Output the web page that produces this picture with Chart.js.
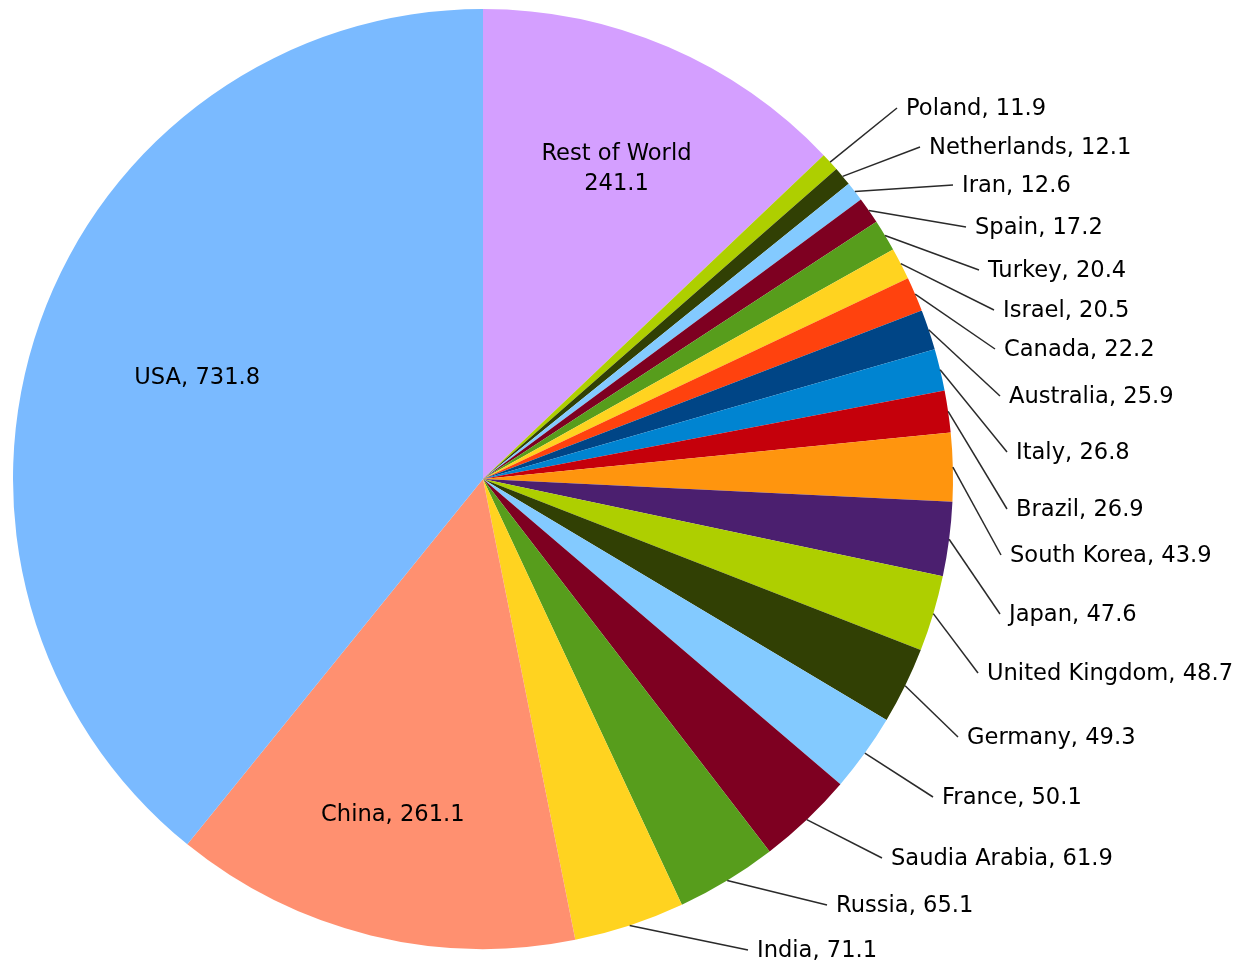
<!DOCTYPE html>
<html>
<head>
<meta charset="utf-8">
<script src="https://cdn.jsdelivr.net/npm/chart.js@4.4.1/dist/chart.umd.min.js"></script>
<style>
  html, body { margin: 0; padding: 0; background: #ffffff; }
  canvas { display: block; }
</style>
</head>
<body>
<canvas id="pieChart" width="1242" height="966"></canvas>
<script>
// Données du graphique (sens horaire depuis midi)
const countries = [
  "Rest of World", "Poland", "Netherlands", "Iran", "Spain", "Turkey", "Israel",
  "Canada", "Australia", "Italy", "Brazil", "South Korea", "Japan",
  "United Kingdom", "Germany", "France", "Saudia Arabia", "Russia", "India",
  "China", "USA"
];
const values = [
  241.1, 11.9, 12.1, 12.6, 17.2, 20.4, 20.5,
  22.2, 25.9, 26.8, 26.9, 43.9, 47.6,
  48.7, 49.3, 50.1, 61.9, 65.1, 71.1,
  261.1, 731.8
];
const sliceColors = [
  "#d49fff", "#aecf00", "#314004", "#83caff", "#7e0021", "#579d1c", "#ffd320",
  "#ff420e", "#004586", "#0084d1", "#c5000b", "#ff950e", "#4b1f6f",
  "#aecf00", "#314004", "#83caff", "#7e0021", "#579d1c", "#ffd320",
  "#ff9070", "#7abaff"
];

// Étiquettes à l'intérieur : fraction du rayon (null = étiquette à l'extérieur)
const insideRadius = [
  0.72, null, null, null, null, null, null,
  null, null, null, null, null, null,
  null, null, null, null, null, null,
  0.74, 0.645
];
// Petit décalage angulaire (degrés) des étiquettes intérieures
const insideTurn = [
  0, 0, 0, 0, 0, 0, 0,
  0, 0, 0, 0, 0, 0,
  0, 0, 0, 0, 0, 0,
  1.2, 0
];
// Étiquettes à l'extérieur : décalage du texte par rapport au centre du camembert
const outsideSpot = [
  null, [423, -370], [446, -331], [479, -293], [492, -251], [505, -208], [520, -168],
  [521, -129], [526, -82], [533, -26], [533, 31], [527, 77], [526, 136],
  [504, 195], [484, 259], [459, 319], [408, 380], [353, 427], [274, 472],
  null, null
];

const labelFont = "22.6px 'DejaVu Sans', sans-serif";

// Plugin pour dessiner les étiquettes et les lignes de rappel
const sliceLabels = {
  id: "sliceLabels",
  afterDatasetsDraw(chart) {
    const ctx = chart.ctx;
    const meta = chart.getDatasetMeta(0);
    ctx.save();
    ctx.font = labelFont;
    ctx.fillStyle = "#000000";
    ctx.textBaseline = "middle";
    meta.data.forEach((arc, i) => {
      const p = arc.getProps(["x", "y", "startAngle", "endAngle", "outerRadius"], true);
      const mid = (p.startAngle + p.endAngle) / 2;
      const value = values[i].toFixed(1);
      if (insideRadius[i] !== null) {
        const r = p.outerRadius * insideRadius[i];
        const a = mid + insideTurn[i] * Math.PI / 180;
        const lx = p.x + Math.cos(a) * r;
        const ly = p.y + Math.sin(a) * r;
        ctx.textAlign = "center";
        if (countries[i] === "Rest of World") {
          ctx.fillText(countries[i], lx, ly - 14);
          ctx.fillText(value, lx, ly + 16);
        } else {
          ctx.fillText(countries[i] + ", " + value, lx, ly);
        }
      } else {
        const spot = outsideSpot[i];
        const tx = p.x + spot[0];
        const ty = p.y + spot[1];
        const sx = p.x + Math.cos(mid) * p.outerRadius;
        const sy = p.y + Math.sin(mid) * p.outerRadius;
        ctx.strokeStyle = "#2a2a2a";
        ctx.lineWidth = 1.5;
        ctx.beginPath();
        ctx.moveTo(sx, sy);
        ctx.lineTo(tx - 9, ty - 1);
        ctx.stroke();
        ctx.textAlign = "left";
        ctx.fillText(countries[i] + ", " + value, tx, ty);
      }
    });
    ctx.restore();
  }
};

const pieCtx = document.getElementById("pieChart").getContext("2d");

const config = {
  type: "pie",
  data: {
    labels: countries,
    datasets: [{
      data: values,
      backgroundColor: sliceColors,
      borderWidth: 0,
      hoverOffset: 0,
      offset: 0
    }]
  },
  options: {
    responsive: false,
    animation: false,
    layout: {
      padding: { left: 13, right: 289, top: 9, bottom: 17 }
    },
    plugins: {
      legend: { display: false },
      tooltip: { enabled: false }
    }
  },
  plugins: [sliceLabels]
};

let myPie = new Chart(pieCtx, config);
</script>
</body>
</html>
